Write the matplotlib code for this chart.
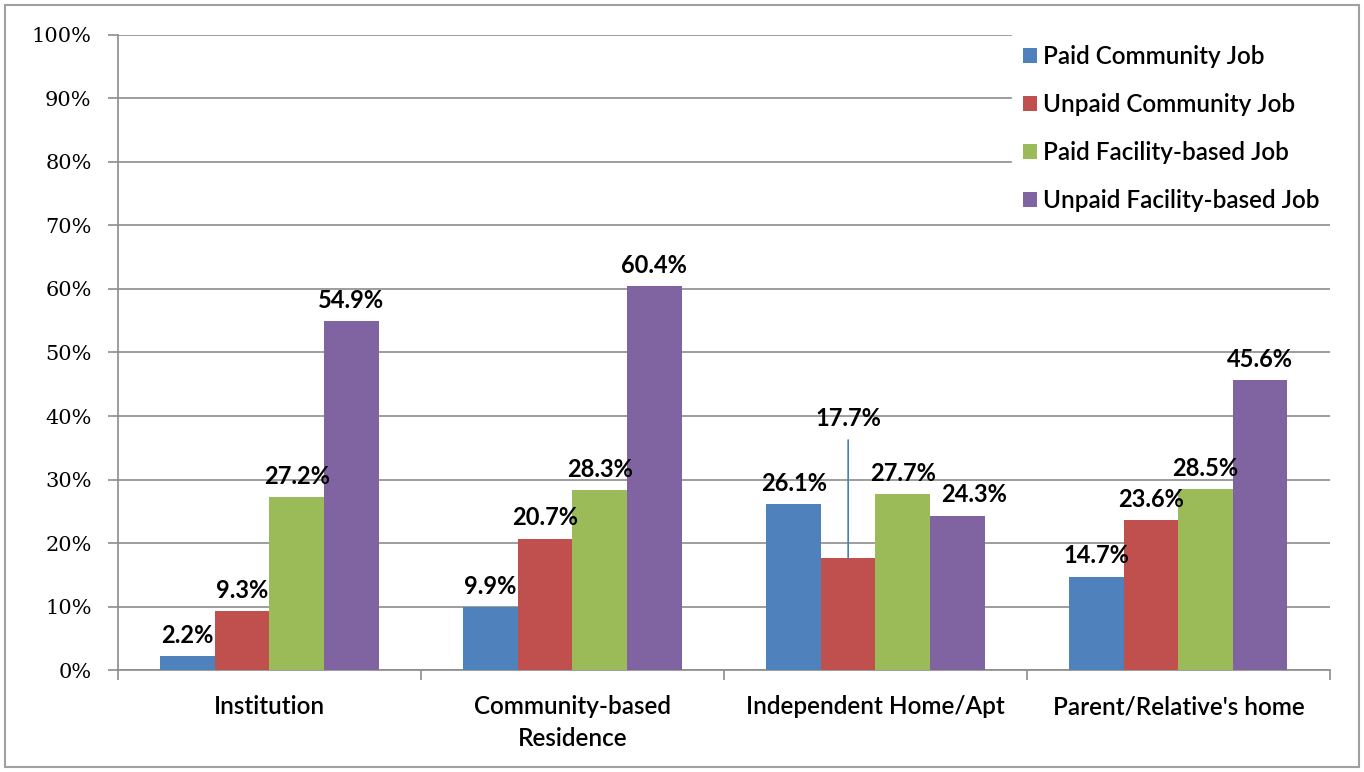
import matplotlib.pyplot as plt
from matplotlib.patches import Rectangle
import numpy as np

categories = ["Institution", "Community-based\nResidence", "Independent Home/Apt", "Parent/Relative's home"]
series = ["Paid Community Job", "Unpaid Community Job", "Paid Facility-based Job", "Unpaid Facility-based Job"]
paid_community = [2.2, 9.9, 26.1, 14.7]
unpaid_community = [9.3, 20.7, 17.7, 23.6]
paid_facility = [27.2, 28.3, 27.7, 28.5]
unpaid_facility = [54.9, 60.4, 24.3, 45.6]
yticks = [0, 10, 20, 30, 40, 50, 60, 70, 80, 90, 100]

colors = ["#4F81BD", "#C0504D", "#9BBB59", "#8064A2"]
grid_c = "#8C8C8C"
sans = "Lato"

fig = plt.figure(figsize=(13.64, 7.72), dpi=100)
fig.patches.append(Rectangle((0.004, 0.006), 0.992, 0.988, transform=fig.transFigure,
                             fill=False, edgecolor="#A0A0A0", linewidth=1.5))
ax = fig.add_axes([0.0865, 0.132, 0.8885, 0.8228])

x = np.arange(len(categories))
w = 0.18
all_vals = [paid_community, unpaid_community, paid_facility, unpaid_facility]
for i, (vals, name) in enumerate(zip(all_vals, series)):
    pos = x + (i - 1.5) * w
    ax.bar(pos, vals, width=w, color=colors[i], label=name, zorder=3)
    for j, v in enumerate(vals):
        txt = f"{v:.1f}%"
        if i == 1 and j == 2:
            # callout label with leader line
            ax.annotate(txt, xy=(pos[j], v), xytext=(0, 100), textcoords="offset points",
                        ha="center", va="center", fontsize=17, fontweight="bold",
                        family=sans, zorder=5,
                        arrowprops=dict(arrowstyle="-", color="#4A7EBB", lw=1.2,
                                        shrinkA=5, shrinkB=0))
            continue
        dx = 0
        if i == 3 and j == 2:
            dx = 12
        ax.annotate(txt, xy=(pos[j], v), xytext=(dx, 15), textcoords="offset points",
                    ha="center", va="center", fontsize=17, fontweight="bold",
                    family=sans, zorder=5)

ax.set_xlim(-0.5, len(categories) - 0.5)
ax.set_ylim(0, 100)
ax.set_yticks(yticks)
ax.set_yticklabels([f"{t}%" for t in yticks], family="DejaVu Serif", fontsize=15)
ax.set_xticks(x)
ax.set_xticklabels(categories, family=sans, fontsize=17.5, fontweight=600, linespacing=1.45)
ax.set_xticks(np.arange(len(categories) + 1) - 0.5, minor=True)
ax.tick_params(axis="x", which="major", length=0, pad=18)
ax.tick_params(axis="x", which="minor", length=7, color=grid_c, width=1.2)
ax.tick_params(axis="y", length=7, color=grid_c, width=1.2, pad=12)
ax.yaxis.grid(True, color=grid_c, linewidth=1.2, zorder=0)
ax.set_axisbelow(True)
for s in ["top", "right"]:
    ax.spines[s].set_visible(False)
for s in ["left", "bottom"]:
    ax.spines[s].set_color(grid_c)
    ax.spines[s].set_linewidth(1.2)

leg = ax.legend(loc="upper right", bbox_to_anchor=(1.0, 1.0), borderaxespad=0,
                frameon=True, facecolor="white", edgecolor="white", framealpha=1,
                fancybox=False, prop={"family": sans, "size": 17.5, "weight": 600},
                handlelength=0.6, handleheight=0.6, handletextpad=0.25,
                labelspacing=1.03, borderpad=0.42)
leg.set_zorder(10)

fig.savefig("out.png", dpi=100)
